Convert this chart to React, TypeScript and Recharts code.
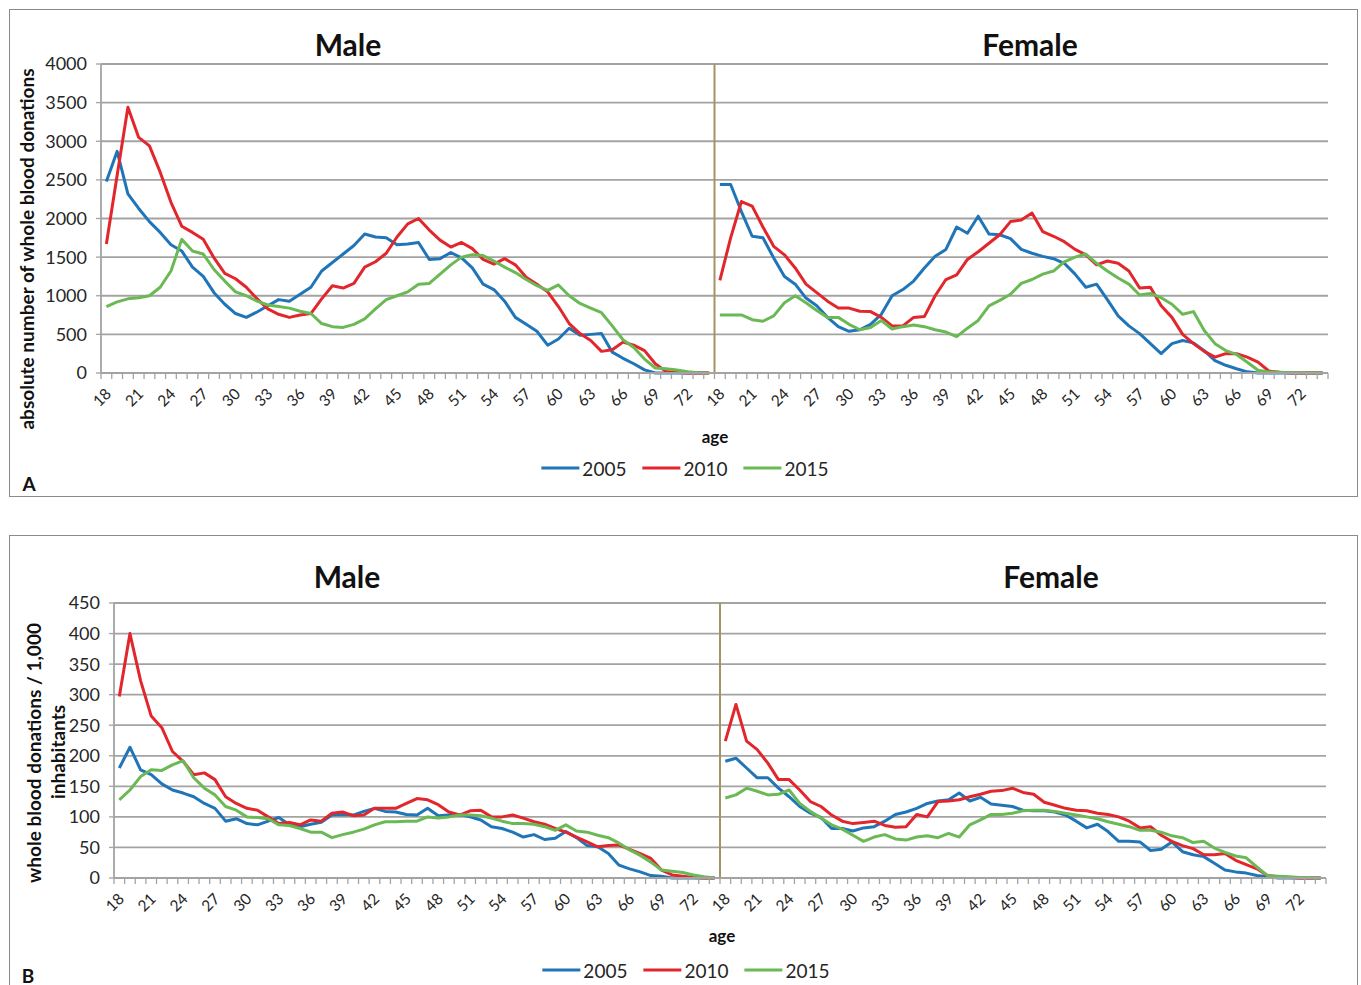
import React from "react";
import { LineChart, Line, XAxis, YAxis, CartesianGrid, ReferenceLine } from "recharts";

// Age categories (one row per single year of age, for each sex)
const AGES = [
  18, 19, 20, 21, 22, 23, 24, 25, 26, 27, 28, 29, 30, 31, 32, 33, 34, 35, 36,
  37, 38, 39, 40, 41, 42, 43, 44, 45, 46, 47, 48, 49, 50, 51, 52, 53, 54, 55,
  56, 57, 58, 59, 60, 61, 62, 63, 64, 65, 66, 67, 68, 69, 70, 71, 72, 73, 74,
];
const LABELLED_AGES = [18, 21, 24, 27, 30, 33, 36, 39, 42, 45, 48, 51, 54, 57, 60, 63, 66, 69, 72];

const SEXES = ["m", "f"] as const;
const YEARS = ["2005", "2010", "2015"] as const;
const YEAR_COLORS: Record<string, string> = {
  "2005": "#1f75b8",
  "2010": "#e2262c",
  "2015": "#6ab955",
};

const ABS_TICKS = [0, 500, 1000, 1500, 2000, 2500, 3000, 3500, 4000];
const RATE_TICKS = [0, 50, 100, 150, 200, 250, 300, 350, 400, 450];

// A: absolute number of whole blood donations
const A_MALE_2005 = [
  2480, 2870, 2320, 2130, 1960, 1820, 1660, 1580, 1370, 1250,
  1040, 890, 770, 720, 790, 870, 950, 930, 1020, 1110,
  1320, 1430, 1540, 1650, 1800, 1760, 1750, 1660, 1670, 1690,
  1470, 1480, 1560, 1490, 1360, 1150, 1080, 930, 720, 630,
  540, 360, 440, 580, 490, 500, 510, 270, 190, 120,
  40, 0, 0, 0, 0, 0, 0,
];
const A_MALE_2010 = [
  1670, 2560, 3440, 3050, 2940, 2600, 2210, 1900, 1820, 1730,
  1490, 1290, 1220, 1110, 960, 830, 760, 720, 750, 770,
  960, 1130, 1100, 1160, 1370, 1440, 1550, 1760, 1930, 2000,
  1850, 1720, 1630, 1690, 1610, 1470, 1410, 1480, 1400, 1240,
  1150, 1050, 860, 640, 510, 420, 280, 300, 400, 360,
  290, 120, 20, 5, 0, 0, 0,
];
const A_MALE_2015 = [
  860, 920, 960, 975, 1000, 1110, 1320, 1730, 1580, 1540,
  1340, 1190, 1050, 1000, 930, 880, 860, 840, 800, 770,
  640, 600, 590, 630, 700, 830, 950, 1000, 1050, 1150,
  1160, 1280, 1400, 1500, 1530, 1520, 1450, 1370, 1300, 1210,
  1130, 1070, 1140, 1000, 900, 840, 780, 610, 430, 330,
  180, 65, 55, 40, 17, 4, 0,
];
const A_FEMALE_2005 = [
  2440, 2440, 2090, 1770, 1750, 1490, 1250, 1150, 970, 870,
  720, 600, 540, 560, 630, 760, 1000, 1080, 1190, 1360,
  1510, 1600, 1890, 1810, 2030, 1800, 1790, 1740, 1600, 1550,
  1510, 1480, 1420, 1280, 1110, 1150, 950, 740, 610, 510,
  380, 250, 380, 420, 390, 290, 160, 100, 55, 15,
  0, 0, 0, 0, 0, 0, 0,
];
const A_FEMALE_2010 = [
  1200, 1750, 2220, 2160, 1890, 1640, 1530, 1360, 1150, 1040,
  930, 840, 840, 800, 795, 720, 610, 610, 720, 730,
  1000, 1210, 1270, 1470, 1570, 1680, 1790, 1960, 1980, 2070,
  1830, 1770, 1700, 1600, 1530, 1400, 1450, 1420, 1320, 1100,
  1110, 870, 720, 500, 380, 280, 205, 250, 250, 205,
  140, 26, 9, 0, 0, 0, 0,
];
const A_FEMALE_2015 = [
  750, 752, 752, 690, 670, 740, 910, 1000, 910, 810,
  720, 720, 630, 560, 590, 680, 570, 600, 620, 600,
  560, 530, 470, 580, 680, 870, 940, 1020, 1160, 1210,
  1280, 1320, 1440, 1500, 1540, 1420, 1320, 1230, 1150, 1010,
  1030, 975, 890, 760, 795, 550, 380, 290, 240, 140,
  35, 13, 9, 4, 2, 0, 0,
];

// B: whole blood donations per 1,000 inhabitants
const B_MALE_2005 = [
  180, 214, 177, 169, 154, 144, 139, 133, 122, 114,
  93, 97, 89, 87, 93, 99, 87, 84, 88, 91,
  103, 104, 103, 109, 114, 109, 108, 104, 103, 114,
  102, 103, 104, 100, 95, 84, 81, 75, 67, 71,
  63, 65, 76, 66, 53, 51, 40, 21, 15, 10,
  4, 3, 0, 0, 0, 0, 0,
];
const B_MALE_2010 = [
  297, 400, 323, 265, 246, 207, 191, 169, 172, 161,
  133, 122, 114, 111, 100, 89, 91, 87, 95, 93,
  106, 108, 102, 103, 114, 114, 114, 122, 130, 128,
  120, 108, 103, 110, 111, 100, 100, 103, 98, 92,
  88, 81, 75, 67, 59, 51, 53, 54, 47, 40,
  32, 13, 5, 3, 1, 0, 0,
];
const B_MALE_2015 = [
  128, 144, 166, 177, 176, 185, 192, 164, 147, 136,
  117, 111, 100, 99, 97, 87, 86, 81, 75, 75,
  66, 71, 75, 80, 87, 92, 92, 93, 93, 100,
  98, 100, 103, 103, 102, 98, 93, 89, 89, 88,
  84, 78, 87, 77, 75, 70, 66, 57, 46, 37,
  26, 13, 11, 9, 5, 2, 0,
];
const B_FEMALE_2005 = [
  191, 196, 180, 164, 164, 147, 133, 117, 106, 99,
  81, 81, 77, 82, 84, 93, 104, 108, 114, 122,
  126, 128, 139, 126, 132, 121, 119, 117, 111, 110,
  110, 108, 103, 93, 82, 88, 76, 60, 60, 59,
  45, 47, 59, 43, 38, 35, 24, 13, 10, 8,
  4, 2, 0, 0, 0, 0, 0,
];
const B_FEMALE_2010 = [
  224, 284, 224, 210, 188, 161, 161, 144, 125, 117,
  103, 93, 89, 91, 93, 86, 83, 84, 104, 100,
  125, 126, 128, 133, 137, 142, 143, 147, 140, 137,
  124, 119, 114, 111, 110, 106, 104, 100, 93, 82,
  84, 70, 60, 53, 48, 38, 38, 40, 29, 22,
  15, 4, 2, 1, 0, 0, 0,
];
const B_FEMALE_2015 = [
  131, 136, 147, 142, 136, 137, 144, 122, 109, 98,
  87, 80, 70, 60, 67, 71, 64, 62, 67, 69,
  66, 73, 67, 87, 95, 104, 104, 106, 110, 111,
  111, 109, 106, 103, 100, 97, 92, 88, 84, 78,
  78, 75, 69, 66, 58, 60, 49, 42, 36, 33,
  18, 4, 3, 2, 1, 1, 0,
];

type Row = { idx: number; age: number; [key: string]: number | null };

// Male ages first, then female ages, on one continuous category axis.
// Each sex gets its own keys so the two curves are not joined at the divider.
function buildRows(male: number[][], female: number[][]): Row[] {
  const rows: Row[] = [];
  [male, female].forEach((set, s) => {
    AGES.forEach((age, k) => {
      const row: Row = { idx: s * AGES.length + k, age };
      SEXES.forEach((sex, si) => {
        YEARS.forEach((y, j) => {
          row[`${sex}${y}`] = si === s ? set[j][k] : null;
        });
      });
      rows.push(row);
    });
  });
  return rows;
}

const ROWS_A = buildRows(
  [A_MALE_2005, A_MALE_2010, A_MALE_2015],
  [A_FEMALE_2005, A_FEMALE_2010, A_FEMALE_2015]
);
const ROWS_B = buildRows(
  [B_MALE_2005, B_MALE_2010, B_MALE_2015],
  [B_FEMALE_2005, B_FEMALE_2010, B_FEMALE_2015]
);

const FONT = "Lato, 'Open Sans', sans-serif";
const GRID = "#a3a3a3";
const TEXT = "#262626";
const PAGE_W = 1361;

interface PanelSpec {
  top: number;
  height: number;
  plotLeft: number;
  plotRight: number;
  plotTop: number;
  plotBottom: number;
}

function AgeTick(props: any) {
  const { x, y, payload, rows, band } = props;
  const row: Row = rows[payload.value];
  if (!row) return null;
  const half = band / 2;
  const showLabel = LABELLED_AGES.includes(row.age);
  return (
    <g>
      {payload.value === 0 && (
        <line x1={x - half} x2={x - half} y1={y} y2={y + 6} stroke={GRID} strokeWidth={1.3} />
      )}
      <line x1={x + half} x2={x + half} y1={y} y2={y + 6} stroke={GRID} strokeWidth={1.3} />
      {showLabel && (
        <text
          transform={`translate(${x + 3},${y + 19}) rotate(-45)`}
          textAnchor="end"
          dominantBaseline="middle"
          fontSize={15.5}
          fontFamily={FONT}
          fill={TEXT}
        >
          {row.age}
        </text>
      )}
    </g>
  );
}

function Panel({ rows, ticks, spec }: { rows: Row[]; ticks: number[]; spec: PanelSpec }) {
  const xHeight = 60;
  const band = (spec.plotRight - spec.plotLeft) / rows.length;
  return (
    <div style={{ position: "absolute", left: 0, top: spec.top }}>
      <LineChart
        width={PAGE_W}
        height={spec.height}
        data={rows}
        margin={{
          top: spec.plotTop,
          right: PAGE_W - spec.plotRight,
          bottom: spec.height - spec.plotBottom - xHeight,
          left: 0,
        }}
      >
        <CartesianGrid horizontal vertical={false} stroke={GRID} strokeWidth={1.8} />
        <XAxis
          dataKey="idx"
          type="number"
          domain={[-0.5, rows.length - 0.5]}
          ticks={rows.map((r) => r.idx)}
          interval={0}
          height={xHeight}
          tickLine={false}
          tickSize={0}
          tickMargin={0}
          axisLine={{ stroke: GRID, strokeWidth: 1.8 }}
          tick={(p: any) => <AgeTick {...p} rows={rows} band={band} />}
          allowDataOverflow
        />
        <YAxis
          width={spec.plotLeft}
          type="number"
          domain={[ticks[0], ticks[ticks.length - 1]]}
          ticks={ticks}
          interval={0}
          tickSize={5}
          tickMargin={9}
          tickLine={{ stroke: GRID, strokeWidth: 1.3 }}
          axisLine={{ stroke: GRID, strokeWidth: 1.8 }}
          tick={{ fill: TEXT, fontSize: 18, fontFamily: FONT }}
        />
        <ReferenceLine x={(rows.length - 1) / 2} stroke="#a39465" strokeWidth={2} />
        {SEXES.flatMap((sex) =>
          YEARS.map((y) => (
            <Line
              key={`${sex}${y}`}
              dataKey={`${sex}${y}`}
              name={y}
              type="linear"
              stroke={YEAR_COLORS[y]}
              strokeWidth={3}
              strokeLinejoin="round"
              dot={false}
              activeDot={false}
              connectNulls={false}
              isAnimationActive={false}
            />
          ))
        )}
      </LineChart>
    </div>
  );
}

function Txt({
  x,
  y,
  children,
  size,
  bold,
  rotate,
}: {
  x: number;
  y: number;
  children: React.ReactNode;
  size: number;
  bold?: boolean;
  rotate?: number;
}) {
  return (
    <div
      style={{
        position: "absolute",
        left: x,
        top: y,
        transform: `translate(-50%, -50%) rotate(${rotate ?? 0}deg)`,
        fontFamily: FONT,
        fontSize: size,
        fontWeight: bold ? 700 : 400,
        color: bold ? "#111" : TEXT,
        whiteSpace: "nowrap",
        lineHeight: 1,
      }}
    >
      {children}
    </div>
  );
}

function YearLegend({ x, y }: { x: number; y: number }) {
  return (
    <div
      style={{
        position: "absolute",
        left: x,
        top: y,
        transform: "translate(-50%, -50%)",
        display: "flex",
        alignItems: "center",
        gap: 16,
        fontFamily: FONT,
        fontSize: 19,
        color: TEXT,
        whiteSpace: "nowrap",
      }}
    >
      {YEARS.map((yr) => (
        <div key={yr} style={{ display: "flex", alignItems: "center", gap: 3 }}>
          <span style={{ display: "inline-block", width: 38, height: 3, background: YEAR_COLORS[yr] }} />
          <span>{yr}</span>
        </div>
      ))}
    </div>
  );
}

const SPEC_A: PanelSpec = { top: 0, height: 500, plotLeft: 101, plotRight: 1328, plotTop: 64, plotBottom: 373 };
const SPEC_B: PanelSpec = { top: 520, height: 465, plotLeft: 114, plotRight: 1326, plotTop: 83, plotBottom: 358 };

export default function App() {
  return (
    <div
      style={{
        position: "absolute",
        left: 0,
        top: 0,
        width: PAGE_W,
        height: 985,
        background: "#fff",
        overflow: "hidden",
      }}
    >
      <div style={{ position: "absolute", left: 9, top: 9, width: 1347, height: 486, border: "1.5px solid #8a8a8a" }} />
      <div style={{ position: "absolute", left: 9, top: 535, width: 1347, height: 470, border: "1.5px solid #8a8a8a" }} />

      <Panel rows={ROWS_A} ticks={ABS_TICKS} spec={SPEC_A} />
      <Panel rows={ROWS_B} ticks={RATE_TICKS} spec={SPEC_B} />

      {/* Panel A captions */}
      <Txt x={348} y={44} size={30} bold>Male</Txt>
      <Txt x={1030} y={44} size={30} bold>Female</Txt>
      <Txt x={26} y={249} size={19} bold rotate={-90}>absolute number of whole blood donations</Txt>
      <Txt x={715} y={436} size={17} bold>age</Txt>
      <YearLegend x={685} y={468} />
      <Txt x={29} y={483} size={19} bold>A</Txt>

      {/* Panel B captions */}
      <Txt x={347} y={576} size={30} bold>Male</Txt>
      <Txt x={1051} y={576} size={30} bold>Female</Txt>
      <Txt x={33} y={753} size={19} bold rotate={-90}>whole blood donations / 1,000</Txt>
      <Txt x={57} y={752} size={19} bold rotate={-90}>inhabitants</Txt>
      <Txt x={722} y={935} size={17} bold>age</Txt>
      <YearLegend x={686} y={970} />
      <Txt x={28} y={975} size={19} bold>B</Txt>
    </div>
  );
}
